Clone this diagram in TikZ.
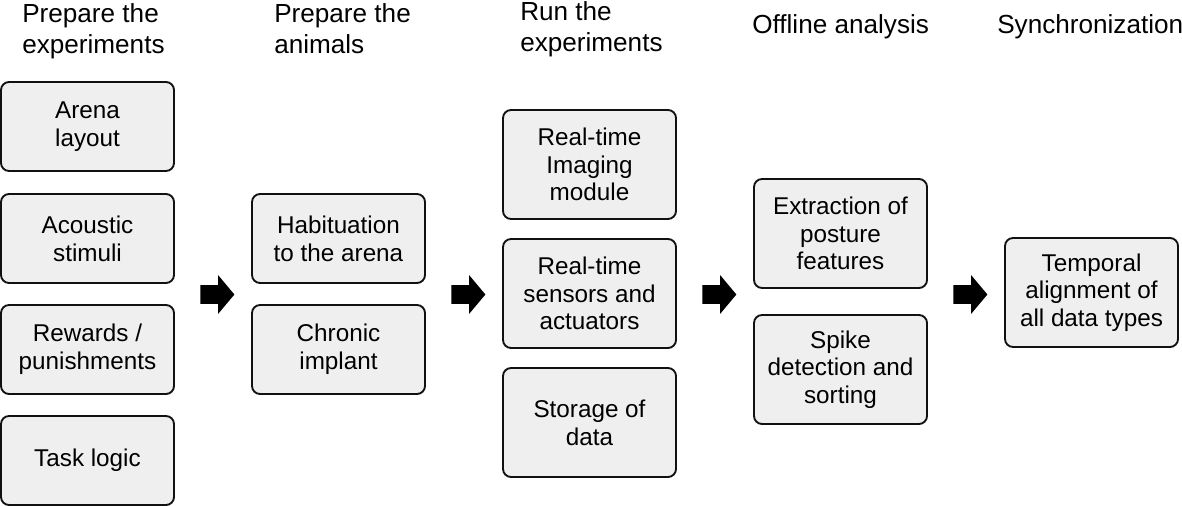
\documentclass[tikz,border=0pt]{standalone}
\usepackage{fontspec}
\setmainfont{Liberation Sans}
\usetikzlibrary{shapes.arrows}
\definecolor{boxfill}{HTML}{EFEFEF}
\definecolor{boxline}{HTML}{111111}
\begin{document}
\begin{tikzpicture}[x=0.75pt,y=-0.75pt,
  stagebox/.style={draw=boxline,fill=boxfill,line width=1.4pt,rounded corners=6pt,
    minimum width=129.75pt,align=center,inner sep=0pt,
    font=\fontsize{18.2pt}{20.8pt}\selectfont},
  hdr/.style={anchor=north west,align=left,inner sep=0pt,
    font=\fontsize{19.6pt}{23.25pt}\selectfont},
  blockarrow/.style={single arrow,fill=black,draw=none,inner xsep=0pt,inner ysep=6.75pt,
    minimum height=25.5pt,minimum width=28.5pt,single arrow head extend=7.5pt,
    single arrow tip angle=100}]
\useasboundingbox (0,0) rectangle (1182,506);
% headers
\node[hdr] (h1) at (22,3) {Prepare the\\experiments};
\node[hdr] (h2) at (274,3) {Prepare the\\animals};
\node[hdr] (h3) at (520,1.5) {Run the\\experiments};
\node[hdr] (h4) at (752,14.5) {Offline analysis};
\node[hdr] (h5) at (997,14.5) {Synchronization};
% column 1
\node[stagebox,minimum height=66.75pt] (arena) at (87.5,126.5) {Arena\\layout};
\node[stagebox,minimum height=66.75pt] (acoustic) at (87.5,238.5) {Acoustic\\stimuli};
\node[stagebox,minimum height=66.75pt] (rewards) at (87.5,349.5) {Rewards /\\punishments};
\node[stagebox,minimum height=66.75pt] (task) at (87.5,460.5) {Task logic};
% column 2
\node[stagebox,minimum height=66.75pt] (habit) at (338.5,238.5) {Habituation\\to the arena};
\node[stagebox,minimum height=66.75pt] (chronic) at (338.5,349.5) {Chronic\\implant};
% column 3
\node[stagebox,minimum height=81.75pt] (imaging) at (589.5,164.5) {Real-time\\Imaging\\module};
\node[stagebox,minimum height=81.75pt] (sensors) at (589.5,293.5) {Real-time\\sensors and\\actuators};
\node[stagebox,minimum height=81.75pt] (storage) at (589.5,422.5) {Storage of\\data};
% column 4
\node[stagebox,minimum height=81.75pt] (posture) at (840.5,233.5) {Extraction of\\posture\\features};
\node[stagebox,minimum height=81.75pt] (spike) at (840.5,369.5) {Spike\\detection and\\sorting};
% column 5
\node[stagebox,minimum height=81.75pt] (align) at (1091.5,292.5) {Temporal\\alignment of\\all data types};
% arrows
\node[blockarrow] (a1) at (213.5,294.5) {};
\node[blockarrow] (a2) at (464.5,294.5) {};
\node[blockarrow] (a3) at (715.5,294.5) {};
\node[blockarrow] (a4) at (966.5,294.5) {};
\end{tikzpicture}
\end{document}
